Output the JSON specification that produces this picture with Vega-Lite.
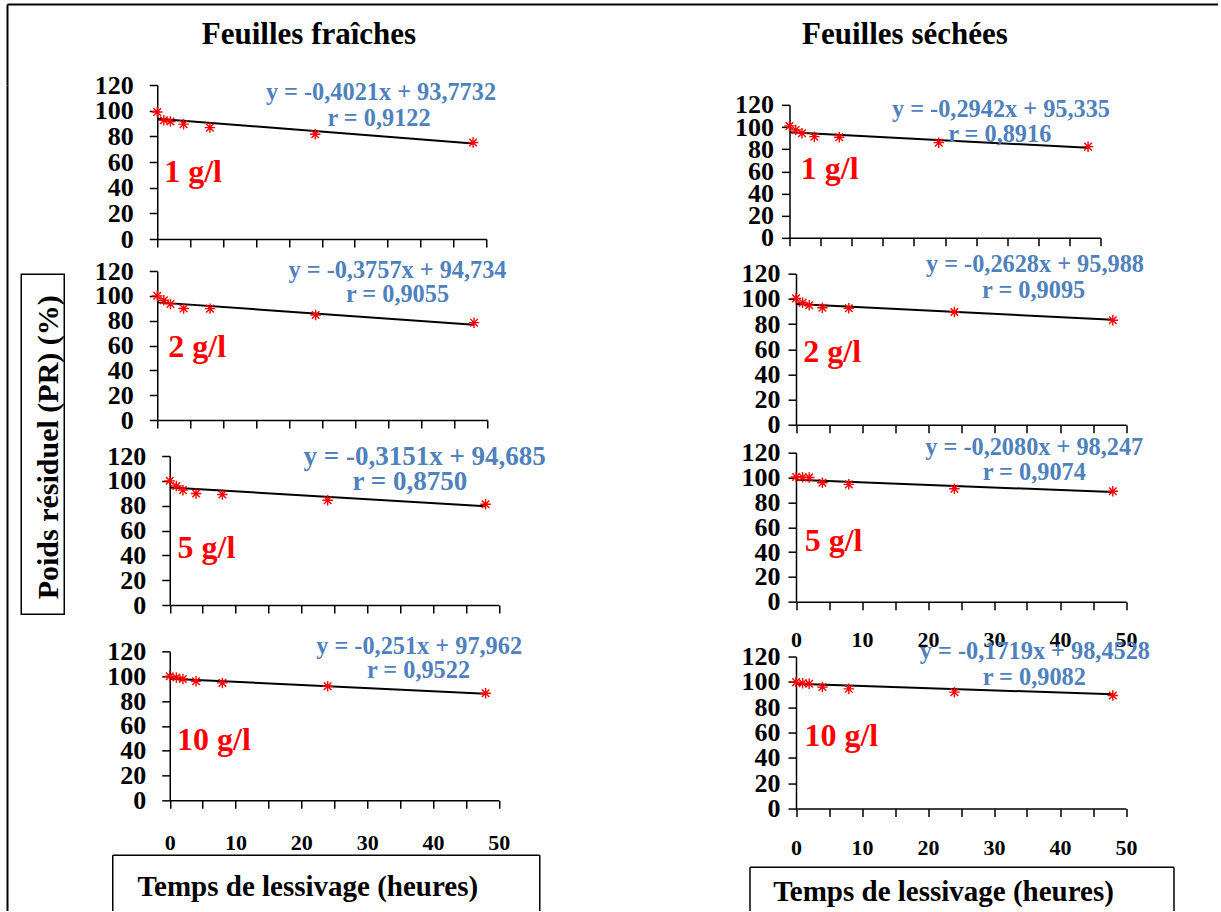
{
"$schema": "https://vega.github.io/schema/vega-lite/v6.json",
"background": "white",
"padding": {"left": 7, "top": 4, "right": 0, "bottom": 0},
"config": {"view": {"stroke": null}, "font": "Liberation Serif",
  "axis": {"grid": false, "domainColor": "black", "tickColor": "black", "labelColor": "black", "labelFont": "Liberation Serif", "labelFontWeight": "bold", "domainWidth": 1.5, "tickWidth": 1.5, "tickSize": 8, "labelOverlap": false, "labelBound": false, "labelFlush": false}},
"datasets": {
"pts": [
{"k":"fr1","t":0,"pr":99},{"k":"fr1","t":1,"pr":92.5},{"k":"fr1","t":2,"pr":91.5},{"k":"fr1","t":4,"pr":89.5},{"k":"fr1","t":8,"pr":86.8},{"k":"fr1","t":24,"pr":81.6},{"k":"fr1","t":48,"pr":75.2},
{"k":"fr2","t":0,"pr":100},{"k":"fr2","t":1,"pr":96.5},{"k":"fr2","t":2,"pr":93.5},{"k":"fr2","t":4,"pr":89.8},{"k":"fr2","t":8,"pr":89.7},{"k":"fr2","t":24,"pr":84.6},{"k":"fr2","t":48,"pr":78.4},
{"k":"fr5","t":0,"pr":100},{"k":"fr5","t":1,"pr":95.8},{"k":"fr5","t":2,"pr":92.5},{"k":"fr5","t":4,"pr":89.8},{"k":"fr5","t":8,"pr":89},{"k":"fr5","t":24,"pr":84.4},{"k":"fr5","t":48,"pr":81.2},
{"k":"fr10","t":0,"pr":100},{"k":"fr10","t":1,"pr":99},{"k":"fr10","t":2,"pr":97.8},{"k":"fr10","t":4,"pr":95.9},{"k":"fr10","t":8,"pr":94.6},{"k":"fr10","t":24,"pr":91.9},{"k":"fr10","t":48,"pr":86.3},
{"k":"se1","t":0,"pr":101},{"k":"se1","t":1,"pr":97.4},{"k":"se1","t":2,"pr":94.4},{"k":"se1","t":4,"pr":91.3},{"k":"se1","t":8,"pr":90.7},{"k":"se1","t":24,"pr":85.9},{"k":"se1","t":48,"pr":82.3},
{"k":"se2","t":0,"pr":100.4},{"k":"se2","t":1,"pr":97},{"k":"se2","t":2,"pr":94.9},{"k":"se2","t":4,"pr":93},{"k":"se2","t":8,"pr":92.5},{"k":"se2","t":24,"pr":89.6},{"k":"se2","t":48,"pr":83},
{"k":"se5","t":0,"pr":100.4},{"k":"se5","t":1,"pr":100.2},{"k":"se5","t":2,"pr":100},{"k":"se5","t":4,"pr":95.8},{"k":"se5","t":8,"pr":94.5},{"k":"se5","t":24,"pr":91},{"k":"se5","t":48,"pr":89},
{"k":"se10","t":0,"pr":99.8},{"k":"se10","t":1,"pr":99},{"k":"se10","t":2,"pr":98.5},{"k":"se10","t":4,"pr":95.9},{"k":"se10","t":8,"pr":94.5},{"k":"se10","t":24,"pr":91.9},{"k":"se10","t":48,"pr":89.3}
],
"fit": [
{"k":"fr1","t":0,"pr":93.77},{"k":"fr1","t":48,"pr":74.47},
{"k":"fr2","t":0,"pr":94.73},{"k":"fr2","t":48,"pr":76.70},
{"k":"fr5","t":0,"pr":94.69},{"k":"fr5","t":48,"pr":79.56},
{"k":"fr10","t":0,"pr":97.96},{"k":"fr10","t":48,"pr":85.91},
{"k":"se1","t":0,"pr":95.34},{"k":"se1","t":48,"pr":81.21},
{"k":"se2","t":0,"pr":95.99},{"k":"se2","t":48,"pr":83.37},
{"k":"se5","t":0,"pr":98.25},{"k":"se5","t":48,"pr":88.26},
{"k":"se10","t":0,"pr":98.45},{"k":"se10","t":48,"pr":90.20}
],
"ann": [
{"k":"fr1","eq":"y = -0,4021x + 93,7732","r":"r = 0,9122","conc":"1 g/l"},
{"k":"fr2","eq":"y = -0,3757x + 94,734","r":"r = 0,9055","conc":"2 g/l"},
{"k":"fr5","eq":"y = -0,3151x + 94,685","r":"r = 0,8750","conc":"5 g/l"},
{"k":"fr10","eq":"y = -0,251x + 97,962","r":"r = 0,9522","conc":"10 g/l"},
{"k":"se1","eq":"y = -0,2942x + 95,335","r":"r = 0,8916","conc":"1 g/l"},
{"k":"se2","eq":"y = -0,2628x + 95,988","r":"r = 0,9095","conc":"2 g/l"},
{"k":"se5","eq":"y = -0,2080x + 98,247","r":"r = 0,9074","conc":"5 g/l"},
{"k":"se10","eq":"y = -0,1719x + 98,4528","r":"r = 0,9082","conc":"10 g/l"}
],
"cols": [{"col": "Feuilles fraîches"}, {"col": "Feuilles séchées"}]
},
"spacing": -13,
"vconcat": [
{"width": 1211, "height": 81, "data": {"name": "cols"},
 "mark": {"type": "text", "fontSize": 31, "fontWeight": "bold", "font": "Liberation Serif", "color": "black", "dy": -10},
 "encoding": {
  "text": {"field": "col"},
  "x": {"field": "col", "type": "nominal", "sort": null, "scale": {"type": "point", "padding": 0.516, "align": 0.491}, "axis": {"orient": "top", "domain": true, "domainWidth": 2, "ticks": false, "labels": false, "title": null}},
  "y": {"datum": 0.5, "type": "quantitative", "scale": {"domain": [0, 1]}, "axis": {"orient": "left", "domain": true, "domainWidth": 2, "ticks": false, "labels": false, "title": null}}}},
{"spacing": 149.5, "hconcat": [
 {"spacing": 29.25, "hconcat": [
  {"spacing": 12.25, "hconcat": [
   {"width": 1, "height": 826, "data": {"values": [{"v": 0}]}, "mark": {"type": "text", "text": "", "fontSize": 0},
    "encoding": {"y": {"field": "v", "type": "quantitative", "scale": {"domain": [0, 1]}, "axis": {"orient": "left", "domain": true, "domainWidth": 2, "ticks": false, "labels": false, "title": null}}}},
   {"spacing": 0.25, "vconcat": [
    {"width": 1, "height": 188, "data": {"values": [{}]}, "mark": {"type": "text", "text": "", "fontSize": 0}},
    {"width": 43, "height": 340, "view": {"stroke": "black", "strokeWidth": 1.5}, "data": {"values": [{"t": "Poids résiduel (PR) (%)"}]},
     "mark": {"type": "text", "angle": 270, "fontSize": 30, "fontWeight": "bold", "font": "Liberation Serif", "color": "black", "dx": -3, "dy": 6},
     "encoding": {"text": {"field": "t"}}}
   ]}
  ]},
  {"spacing": 16.35, "vconcat": [
   {"spacing": 9, "vconcat": [
    {"spacing": 6, "vconcat": [
     {"width": 329, "height": 154, "layer": [
      {"data": {"name": "fit"}, "transform": [{"filter": "datum.k === 'fr1'"}], "mark": {"type": "line", "color": "black", "strokeWidth": 2},
       "encoding": {"x": {"field": "t", "type": "quantitative", "scale": {"domain": [0, 50], "nice": false}, "axis": {"values": [0,5,10,15,20,25,30,35,40,45,50], "labels": false, "title": null}},
                    "y": {"field": "pr", "type": "quantitative", "scale": {"domain": [0, 120], "nice": false}, "axis": {"values": [0,20,40,60,80,100,120], "labelPadding": 16, "labelFontSize": 26, "title": null}}}},
      {"data": {"name": "pts"}, "transform": [{"filter": "datum.k === 'fr1'"}], "mark": {"type": "point", "shape": "M-1,0L1,0M0,-1L0,1M-0.72,-0.72L0.72,0.72M-0.72,0.72L0.72,-0.72", "size": 110, "filled": false, "color": "#ff0000", "strokeWidth": 1.4, "opacity": 1},
       "encoding": {"x": {"field": "t", "type": "quantitative", "axis": {"values": [0,5,10,15,20,25,30,35,40,45,50], "labels": false, "title": null}}, "y": {"field": "pr", "type": "quantitative", "axis": {"values": [0,20,40,60,80,100,120], "labelPadding": 16, "labelFontSize": 26, "title": null}}}},
      {"data": {"name": "ann"}, "transform": [{"filter": "datum.k === 'fr1'"}], "mark": {"type": "text", "font": "Liberation Serif", "fontWeight": "bold", "fontSize": 24.3, "color": "#4f81bd"},
       "encoding": {"x": {"datum": 34.0, "axis": {"values": [0,5,10,15,20,25,30,35,40,45,50], "labels": false, "title": null}}, "y": {"datum": 113.8, "axis": {"values": [0,20,40,60,80,100,120], "labelPadding": 16, "labelFontSize": 26, "title": null}}, "text": {"field": "eq"}}},
      {"data": {"name": "ann"}, "transform": [{"filter": "datum.k === 'fr1'"}], "mark": {"type": "text", "font": "Liberation Serif", "fontWeight": "bold", "fontSize": 24.3, "color": "#4f81bd"},
       "encoding": {"x": {"datum": 33.7, "axis": {"values": [0,5,10,15,20,25,30,35,40,45,50], "labels": false, "title": null}}, "y": {"datum": 93.5, "axis": {"values": [0,20,40,60,80,100,120], "labelPadding": 16, "labelFontSize": 26, "title": null}}, "text": {"field": "r"}}},
      {"data": {"name": "ann"}, "transform": [{"filter": "datum.k === 'fr1'"}], "mark": {"type": "text", "font": "Liberation Serif", "fontWeight": "bold", "fontSize": 32, "color": "#ff0000", "align": "left", "baseline": "alphabetic"},
       "encoding": {"x": {"datum": 1.06, "axis": {"values": [0,5,10,15,20,25,30,35,40,45,50], "labels": false, "title": null}}, "y": {"datum": 44.6, "axis": {"values": [0,20,40,60,80,100,120], "labelPadding": 16, "labelFontSize": 26, "title": null}}, "text": {"field": "conc"}}}
     ]},
     {"width": 330, "height": 149, "layer": [
      {"data": {"name": "fit"}, "transform": [{"filter": "datum.k === 'fr2'"}], "mark": {"type": "line", "color": "black", "strokeWidth": 2},
       "encoding": {"x": {"field": "t", "type": "quantitative", "scale": {"domain": [0, 50], "nice": false}, "axis": {"values": [0,5,10,15,20,25,30,35,40,45,50], "labels": false, "title": null}},
                    "y": {"field": "pr", "type": "quantitative", "scale": {"domain": [0, 120], "nice": false}, "axis": {"values": [0,20,40,60,80,100,120], "labelPadding": 16, "labelFontSize": 26, "title": null}}}},
      {"data": {"name": "pts"}, "transform": [{"filter": "datum.k === 'fr2'"}], "mark": {"type": "point", "shape": "M-1,0L1,0M0,-1L0,1M-0.72,-0.72L0.72,0.72M-0.72,0.72L0.72,-0.72", "size": 110, "filled": false, "color": "#ff0000", "strokeWidth": 1.4, "opacity": 1},
       "encoding": {"x": {"field": "t", "type": "quantitative", "axis": {"values": [0,5,10,15,20,25,30,35,40,45,50], "labels": false, "title": null}}, "y": {"field": "pr", "type": "quantitative", "axis": {"values": [0,20,40,60,80,100,120], "labelPadding": 16, "labelFontSize": 26, "title": null}}}},
      {"data": {"name": "ann"}, "transform": [{"filter": "datum.k === 'fr2'"}], "mark": {"type": "text", "font": "Liberation Serif", "fontWeight": "bold", "fontSize": 24.3, "color": "#4f81bd"},
       "encoding": {"x": {"datum": 36.4, "axis": {"values": [0,5,10,15,20,25,30,35,40,45,50], "labels": false, "title": null}}, "y": {"datum": 120, "axis": {"values": [0,20,40,60,80,100,120], "labelPadding": 16, "labelFontSize": 26, "title": null}}, "text": {"field": "eq"}}},
      {"data": {"name": "ann"}, "transform": [{"filter": "datum.k === 'fr2'"}], "mark": {"type": "text", "font": "Liberation Serif", "fontWeight": "bold", "fontSize": 24.3, "color": "#4f81bd"},
       "encoding": {"x": {"datum": 36.4, "axis": {"values": [0,5,10,15,20,25,30,35,40,45,50], "labels": false, "title": null}}, "y": {"datum": 100.3, "axis": {"values": [0,20,40,60,80,100,120], "labelPadding": 16, "labelFontSize": 26, "title": null}}, "text": {"field": "r"}}},
      {"data": {"name": "ann"}, "transform": [{"filter": "datum.k === 'fr2'"}], "mark": {"type": "text", "font": "Liberation Serif", "fontWeight": "bold", "fontSize": 32, "color": "#ff0000", "align": "left", "baseline": "alphabetic"},
       "encoding": {"x": {"datum": 1.67, "axis": {"values": [0,5,10,15,20,25,30,35,40,45,50], "labels": false, "title": null}}, "y": {"datum": 50.5, "axis": {"values": [0,20,40,60,80,100,120], "labelPadding": 16, "labelFontSize": 26, "title": null}}, "text": {"field": "conc"}}}
     ]}
    ]},
    {"width": 341.5, "height": 149, "layer": [
     {"data": {"name": "fit"}, "transform": [{"filter": "datum.k === 'fr5'"}], "mark": {"type": "line", "color": "black", "strokeWidth": 2},
      "encoding": {"x": {"field": "t", "type": "quantitative", "scale": {"domain": [0, 50], "nice": false, "range": [12.5, 341.5]}, "axis": {"values": [0,5,10,15,20,25,30,35,40,45,50], "labels": false, "title": null}},
                   "y": {"field": "pr", "type": "quantitative", "scale": {"domain": [0, 120], "nice": false}, "axis": {"values": [0,20,40,60,80,100,120], "labelPadding": 16, "labelFontSize": 26, "offset": -12.5, "title": null}}}},
     {"data": {"name": "pts"}, "transform": [{"filter": "datum.k === 'fr5'"}], "mark": {"type": "point", "shape": "M-1,0L1,0M0,-1L0,1M-0.72,-0.72L0.72,0.72M-0.72,0.72L0.72,-0.72", "size": 110, "filled": false, "color": "#ff0000", "strokeWidth": 1.4, "opacity": 1},
      "encoding": {"x": {"field": "t", "type": "quantitative", "axis": {"values": [0,5,10,15,20,25,30,35,40,45,50], "labels": false, "title": null}}, "y": {"field": "pr", "type": "quantitative", "axis": {"values": [0,20,40,60,80,100,120], "labelPadding": 16, "labelFontSize": 26, "offset": -12.5, "title": null}}}},
     {"data": {"name": "ann"}, "transform": [{"filter": "datum.k === 'fr5'"}], "mark": {"type": "text", "font": "Liberation Serif", "fontWeight": "bold", "fontSize": 27, "color": "#4f81bd"},
      "encoding": {"x": {"datum": 38.75, "axis": {"values": [0,5,10,15,20,25,30,35,40,45,50], "labels": false, "title": null}}, "y": {"datum": 119.2, "axis": {"values": [0,20,40,60,80,100,120], "labelPadding": 16, "labelFontSize": 26, "offset": -12.5, "title": null}}, "text": {"field": "eq"}}},
     {"data": {"name": "ann"}, "transform": [{"filter": "datum.k === 'fr5'"}], "mark": {"type": "text", "font": "Liberation Serif", "fontWeight": "bold", "fontSize": 27, "color": "#4f81bd"},
      "encoding": {"x": {"datum": 36.5, "axis": {"values": [0,5,10,15,20,25,30,35,40,45,50], "labels": false, "title": null}}, "y": {"datum": 98.7, "axis": {"values": [0,20,40,60,80,100,120], "labelPadding": 16, "labelFontSize": 26, "offset": -12.5, "title": null}}, "text": {"field": "r"}}},
     {"data": {"name": "ann"}, "transform": [{"filter": "datum.k === 'fr5'"}], "mark": {"type": "text", "font": "Liberation Serif", "fontWeight": "bold", "fontSize": 32, "color": "#ff0000", "align": "left", "baseline": "alphabetic"},
      "encoding": {"x": {"datum": 1.19, "axis": {"values": [0,5,10,15,20,25,30,35,40,45,50], "labels": false, "title": null}}, "y": {"datum": 37.6, "axis": {"values": [0,20,40,60,80,100,120], "labelPadding": 16, "labelFontSize": 26, "offset": -12.5, "title": null}}, "text": {"field": "conc"}}}
    ]}
   ]},
   {"spacing": 1.5, "vconcat": [
    {"width": 341.5, "height": 149, "layer": [
     {"data": {"name": "fit"}, "transform": [{"filter": "datum.k === 'fr10'"}], "mark": {"type": "line", "color": "black", "strokeWidth": 2},
      "encoding": {"x": {"field": "t", "type": "quantitative", "scale": {"domain": [0, 50], "nice": false, "range": [12.5, 341.5]}, "axis": {"values": [0,5,10,15,20,25,30,35,40,45,50], "labelExpr": "datum.value % 10 === 0 ? datum.label : ''", "labelPadding": 24, "labelFontSize": 22, "title": null}},
                   "y": {"field": "pr", "type": "quantitative", "scale": {"domain": [0, 120], "nice": false}, "axis": {"values": [0,20,40,60,80,100,120], "labelPadding": 16, "labelFontSize": 26, "offset": -12.5, "title": null}}}},
     {"data": {"name": "pts"}, "transform": [{"filter": "datum.k === 'fr10'"}], "mark": {"type": "point", "shape": "M-1,0L1,0M0,-1L0,1M-0.72,-0.72L0.72,0.72M-0.72,0.72L0.72,-0.72", "size": 110, "filled": false, "color": "#ff0000", "strokeWidth": 1.4, "opacity": 1},
      "encoding": {"x": {"field": "t", "type": "quantitative", "axis": {"values": [0,5,10,15,20,25,30,35,40,45,50], "labelExpr": "datum.value % 10 === 0 ? datum.label : ''", "labelPadding": 24, "labelFontSize": 22, "title": null}}, "y": {"field": "pr", "type": "quantitative", "axis": {"values": [0,20,40,60,80,100,120], "labelPadding": 16, "labelFontSize": 26, "offset": -12.5, "title": null}}}},
     {"data": {"name": "ann"}, "transform": [{"filter": "datum.k === 'fr10'"}], "mark": {"type": "text", "font": "Liberation Serif", "fontWeight": "bold", "fontSize": 24.3, "color": "#4f81bd"},
      "encoding": {"x": {"datum": 37.9, "axis": {"values": [0,5,10,15,20,25,30,35,40,45,50], "labelExpr": "datum.value % 10 === 0 ? datum.label : ''", "labelPadding": 24, "labelFontSize": 22, "title": null}}, "y": {"datum": 123.6, "axis": {"values": [0,20,40,60,80,100,120], "labelPadding": 16, "labelFontSize": 26, "offset": -12.5, "title": null}}, "text": {"field": "eq"}}},
     {"data": {"name": "ann"}, "transform": [{"filter": "datum.k === 'fr10'"}], "mark": {"type": "text", "font": "Liberation Serif", "fontWeight": "bold", "fontSize": 24.3, "color": "#4f81bd"},
      "encoding": {"x": {"datum": 37.8, "axis": {"values": [0,5,10,15,20,25,30,35,40,45,50], "labelExpr": "datum.value % 10 === 0 ? datum.label : ''", "labelPadding": 24, "labelFontSize": 22, "title": null}}, "y": {"datum": 103.9, "axis": {"values": [0,20,40,60,80,100,120], "labelPadding": 16, "labelFontSize": 26, "offset": -12.5, "title": null}}, "text": {"field": "r"}}},
     {"data": {"name": "ann"}, "transform": [{"filter": "datum.k === 'fr10'"}], "mark": {"type": "text", "font": "Liberation Serif", "fontWeight": "bold", "fontSize": 32, "color": "#ff0000", "align": "left", "baseline": "alphabetic"},
      "encoding": {"x": {"datum": 1.1, "axis": {"values": [0,5,10,15,20,25,30,35,40,45,50], "labelExpr": "datum.value % 10 === 0 ? datum.label : ''", "labelPadding": 24, "labelFontSize": 22, "title": null}}, "y": {"datum": 40.8, "axis": {"values": [0,20,40,60,80,100,120], "labelPadding": 16, "labelFontSize": 26, "offset": -12.5, "title": null}}, "text": {"field": "conc"}}}
    ]},
    {"width": 382, "height": 56, "data": {"values": [{"v": 0, "t": "Temps de lessivage (heures)"}]},
     "layer": [
      {"mark": {"type": "text", "fontSize": 29, "fontWeight": "bold", "font": "Liberation Serif", "color": "black", "dx": -18, "dy": 4},
       "encoding": {"text": {"field": "t"},
        "x": {"field": "v", "type": "quantitative", "scale": {"domain": [-1, 1], "range": [-45, 382]}, "axis": {"orient": "top", "domain": true, "ticks": false, "labels": false, "title": null}},
        "y": {"field": "v", "type": "quantitative", "scale": {"domain": [-1, 1]}, "axis": {"orient": "left", "offset": 45, "domain": true, "ticks": false, "labels": false, "title": null}}}},
      {"mark": {"type": "text", "text": "", "fontSize": 0},
       "encoding": {"y": {"field": "v", "type": "quantitative", "scale": {"domain": [-1, 1]}, "axis": {"orient": "right", "domain": true, "ticks": false, "labels": false, "title": null}}}}
     ],
     "resolve": {"scale": {"y": "independent"}, "axis": {"y": "independent"}}}
   ]}
  ]}
 ]},
 {"spacing": 5.85, "vconcat": [
  {"width": 1, "height": 1, "data": {"values": [{}]}, "mark": {"type": "text", "text": "", "fontSize": 0}},
  {"spacing": -2.15, "vconcat": [
   {"spacing": 0.85, "vconcat": [
    {"width": 311, "height": 133, "layer": [
     {"data": {"name": "fit"}, "transform": [{"filter": "datum.k === 'se1'"}], "mark": {"type": "line", "color": "black", "strokeWidth": 2},
      "encoding": {"x": {"field": "t", "type": "quantitative", "scale": {"domain": [0, 50], "nice": false}, "axis": {"values": [0,5,10,15,20,25,30,35,40,45,50], "labels": false, "title": null}},
                   "y": {"field": "pr", "type": "quantitative", "scale": {"domain": [0, 120], "nice": false}, "axis": {"values": [0,20,40,60,80,100,120], "labelPadding": 8, "labelFontSize": 26, "title": null}}}},
     {"data": {"name": "pts"}, "transform": [{"filter": "datum.k === 'se1'"}], "mark": {"type": "point", "shape": "M-1,0L1,0M0,-1L0,1M-0.72,-0.72L0.72,0.72M-0.72,0.72L0.72,-0.72", "size": 110, "filled": false, "color": "#ff0000", "strokeWidth": 1.4, "opacity": 1},
      "encoding": {"x": {"field": "t", "type": "quantitative", "axis": {"values": [0,5,10,15,20,25,30,35,40,45,50], "labels": false, "title": null}}, "y": {"field": "pr", "type": "quantitative", "axis": {"values": [0,20,40,60,80,100,120], "labelPadding": 8, "labelFontSize": 26, "title": null}}}},
     {"data": {"name": "ann"}, "transform": [{"filter": "datum.k === 'se1'"}], "mark": {"type": "text", "font": "Liberation Serif", "fontWeight": "bold", "fontSize": 24.3, "color": "#4f81bd"},
      "encoding": {"x": {"datum": 34.0, "axis": {"values": [0,5,10,15,20,25,30,35,40,45,50], "labels": false, "title": null}}, "y": {"datum": 115.5, "axis": {"values": [0,20,40,60,80,100,120], "labelPadding": 8, "labelFontSize": 26, "title": null}}, "text": {"field": "eq"}}},
     {"data": {"name": "ann"}, "transform": [{"filter": "datum.k === 'se1'"}], "mark": {"type": "text", "font": "Liberation Serif", "fontWeight": "bold", "fontSize": 24.3, "color": "#4f81bd"},
      "encoding": {"x": {"datum": 33.8, "axis": {"values": [0,5,10,15,20,25,30,35,40,45,50], "labels": false, "title": null}}, "y": {"datum": 92.9, "axis": {"values": [0,20,40,60,80,100,120], "labelPadding": 8, "labelFontSize": 26, "title": null}}, "text": {"field": "r"}}},
     {"data": {"name": "ann"}, "transform": [{"filter": "datum.k === 'se1'"}], "mark": {"type": "text", "font": "Liberation Serif", "fontWeight": "bold", "fontSize": 32, "color": "#ff0000", "align": "left", "baseline": "alphabetic"},
      "encoding": {"x": {"datum": 1.82, "axis": {"values": [0,5,10,15,20,25,30,35,40,45,50], "labels": false, "title": null}}, "y": {"datum": 53.0, "axis": {"values": [0,20,40,60,80,100,120], "labelPadding": 8, "labelFontSize": 26, "title": null}}, "text": {"field": "conc"}}}
    ]},
    {"width": 336.5, "height": 151, "layer": [
     {"data": {"name": "fit"}, "transform": [{"filter": "datum.k === 'se2'"}], "mark": {"type": "line", "color": "black", "strokeWidth": 2},
      "encoding": {"x": {"field": "t", "type": "quantitative", "scale": {"domain": [0, 50], "nice": false, "range": [6.5, 336.5]}, "axis": {"values": [0,5,10,15,20,25,30,35,40,45,50], "labels": false, "title": null}},
                   "y": {"field": "pr", "type": "quantitative", "scale": {"domain": [0, 120], "nice": false}, "axis": {"values": [0,20,40,60,80,100,120], "labelPadding": 8, "labelFontSize": 26, "offset": -6.5, "title": null}}}},
     {"data": {"name": "pts"}, "transform": [{"filter": "datum.k === 'se2'"}], "mark": {"type": "point", "shape": "M-1,0L1,0M0,-1L0,1M-0.72,-0.72L0.72,0.72M-0.72,0.72L0.72,-0.72", "size": 110, "filled": false, "color": "#ff0000", "strokeWidth": 1.4, "opacity": 1},
      "encoding": {"x": {"field": "t", "type": "quantitative", "axis": {"values": [0,5,10,15,20,25,30,35,40,45,50], "labels": false, "title": null}}, "y": {"field": "pr", "type": "quantitative", "axis": {"values": [0,20,40,60,80,100,120], "labelPadding": 8, "labelFontSize": 26, "offset": -6.5, "title": null}}}},
     {"data": {"name": "ann"}, "transform": [{"filter": "datum.k === 'se2'"}], "mark": {"type": "text", "font": "Liberation Serif", "fontWeight": "bold", "fontSize": 24.3, "color": "#4f81bd"},
      "encoding": {"x": {"datum": 36.2, "axis": {"values": [0,5,10,15,20,25,30,35,40,45,50], "labels": false, "title": null}}, "y": {"datum": 127.2, "axis": {"values": [0,20,40,60,80,100,120], "labelPadding": 8, "labelFontSize": 26, "offset": -6.5, "title": null}}, "text": {"field": "eq"}}},
     {"data": {"name": "ann"}, "transform": [{"filter": "datum.k === 'se2'"}], "mark": {"type": "text", "font": "Liberation Serif", "fontWeight": "bold", "fontSize": 24.3, "color": "#4f81bd"},
      "encoding": {"x": {"datum": 36.0, "axis": {"values": [0,5,10,15,20,25,30,35,40,45,50], "labels": false, "title": null}}, "y": {"datum": 106.5, "axis": {"values": [0,20,40,60,80,100,120], "labelPadding": 8, "labelFontSize": 26, "offset": -6.5, "title": null}}, "text": {"field": "r"}}},
     {"data": {"name": "ann"}, "transform": [{"filter": "datum.k === 'se2'"}], "mark": {"type": "text", "font": "Liberation Serif", "fontWeight": "bold", "fontSize": 32, "color": "#ff0000", "align": "left", "baseline": "alphabetic"},
      "encoding": {"x": {"datum": 1.1, "axis": {"values": [0,5,10,15,20,25,30,35,40,45,50], "labels": false, "title": null}}, "y": {"datum": 49.5, "axis": {"values": [0,20,40,60,80,100,120], "labelPadding": 8, "labelFontSize": 26, "offset": -6.5, "title": null}}, "text": {"field": "conc"}}}
    ]}
   ]},
   {"spacing": -11.15, "vconcat": [
    {"width": 336.5, "height": 149, "layer": [
     {"data": {"name": "fit"}, "transform": [{"filter": "datum.k === 'se5'"}], "mark": {"type": "line", "color": "black", "strokeWidth": 2},
      "encoding": {"x": {"field": "t", "type": "quantitative", "scale": {"domain": [0, 50], "nice": false, "range": [6.5, 336.5]}, "axis": {"values": [0,5,10,15,20,25,30,35,40,45,50], "labelExpr": "datum.value % 10 === 0 ? datum.label : ''", "labelPadding": 20, "labelFontSize": 22, "title": null}},
                   "y": {"field": "pr", "type": "quantitative", "scale": {"domain": [0, 120], "nice": false}, "axis": {"values": [0,20,40,60,80,100,120], "labelPadding": 8, "labelFontSize": 26, "offset": -6.5, "title": null}}}},
     {"data": {"name": "pts"}, "transform": [{"filter": "datum.k === 'se5'"}], "mark": {"type": "point", "shape": "M-1,0L1,0M0,-1L0,1M-0.72,-0.72L0.72,0.72M-0.72,0.72L0.72,-0.72", "size": 110, "filled": false, "color": "#ff0000", "strokeWidth": 1.4, "opacity": 1},
      "encoding": {"x": {"field": "t", "type": "quantitative", "axis": {"values": [0,5,10,15,20,25,30,35,40,45,50], "labelExpr": "datum.value % 10 === 0 ? datum.label : ''", "labelPadding": 20, "labelFontSize": 22, "title": null}}, "y": {"field": "pr", "type": "quantitative", "axis": {"values": [0,20,40,60,80,100,120], "labelPadding": 8, "labelFontSize": 26, "offset": -6.5, "title": null}}}},
     {"data": {"name": "ann"}, "transform": [{"filter": "datum.k === 'se5'"}], "mark": {"type": "text", "font": "Liberation Serif", "fontWeight": "bold", "fontSize": 24.3, "color": "#4f81bd"},
      "encoding": {"x": {"datum": 36.1, "axis": {"values": [0,5,10,15,20,25,30,35,40,45,50], "labelExpr": "datum.value % 10 === 0 ? datum.label : ''", "labelPadding": 20, "labelFontSize": 22, "title": null}}, "y": {"datum": 124, "axis": {"values": [0,20,40,60,80,100,120], "labelPadding": 8, "labelFontSize": 26, "offset": -6.5, "title": null}}, "text": {"field": "eq"}}},
     {"data": {"name": "ann"}, "transform": [{"filter": "datum.k === 'se5'"}], "mark": {"type": "text", "font": "Liberation Serif", "fontWeight": "bold", "fontSize": 24.3, "color": "#4f81bd"},
      "encoding": {"x": {"datum": 36.1, "axis": {"values": [0,5,10,15,20,25,30,35,40,45,50], "labelExpr": "datum.value % 10 === 0 ? datum.label : ''", "labelPadding": 20, "labelFontSize": 22, "title": null}}, "y": {"datum": 103.5, "axis": {"values": [0,20,40,60,80,100,120], "labelPadding": 8, "labelFontSize": 26, "offset": -6.5, "title": null}}, "text": {"field": "r"}}},
     {"data": {"name": "ann"}, "transform": [{"filter": "datum.k === 'se5'"}], "mark": {"type": "text", "font": "Liberation Serif", "fontWeight": "bold", "fontSize": 32, "color": "#ff0000", "align": "left", "baseline": "alphabetic"},
      "encoding": {"x": {"datum": 1.32, "axis": {"values": [0,5,10,15,20,25,30,35,40,45,50], "labelExpr": "datum.value % 10 === 0 ? datum.label : ''", "labelPadding": 20, "labelFontSize": 22, "title": null}}, "y": {"datum": 41.1, "axis": {"values": [0,20,40,60,80,100,120], "labelPadding": 8, "labelFontSize": 26, "offset": -6.5, "title": null}}, "text": {"field": "conc"}}}
    ]},
    {"spacing": 8.25, "vconcat": [
     {"width": 336.5, "height": 152, "layer": [
      {"data": {"name": "fit"}, "transform": [{"filter": "datum.k === 'se10'"}], "mark": {"type": "line", "color": "black", "strokeWidth": 2},
       "encoding": {"x": {"field": "t", "type": "quantitative", "scale": {"domain": [0, 50], "nice": false, "range": [6.5, 336.5]}, "axis": {"values": [0,5,10,15,20,25,30,35,40,45,50], "labelExpr": "datum.value % 10 === 0 ? datum.label : ''", "labelPadding": 21, "labelFontSize": 22, "title": null}},
                    "y": {"field": "pr", "type": "quantitative", "scale": {"domain": [0, 120], "nice": false}, "axis": {"values": [0,20,40,60,80,100,120], "labelPadding": 8, "labelFontSize": 26, "offset": -6.5, "title": null}}}},
      {"data": {"name": "pts"}, "transform": [{"filter": "datum.k === 'se10'"}], "mark": {"type": "point", "shape": "M-1,0L1,0M0,-1L0,1M-0.72,-0.72L0.72,0.72M-0.72,0.72L0.72,-0.72", "size": 110, "filled": false, "color": "#ff0000", "strokeWidth": 1.4, "opacity": 1},
       "encoding": {"x": {"field": "t", "type": "quantitative", "axis": {"values": [0,5,10,15,20,25,30,35,40,45,50], "labelExpr": "datum.value % 10 === 0 ? datum.label : ''", "labelPadding": 21, "labelFontSize": 22, "title": null}}, "y": {"field": "pr", "type": "quantitative", "axis": {"values": [0,20,40,60,80,100,120], "labelPadding": 8, "labelFontSize": 26, "offset": -6.5, "title": null}}}},
      {"data": {"name": "ann"}, "transform": [{"filter": "datum.k === 'se10'"}], "mark": {"type": "text", "font": "Liberation Serif", "fontWeight": "bold", "fontSize": 24.3, "color": "#4f81bd"},
       "encoding": {"x": {"datum": 36.2, "axis": {"values": [0,5,10,15,20,25,30,35,40,45,50], "labelExpr": "datum.value % 10 === 0 ? datum.label : ''", "labelPadding": 21, "labelFontSize": 22, "title": null}}, "y": {"datum": 123.2, "axis": {"values": [0,20,40,60,80,100,120], "labelPadding": 8, "labelFontSize": 26, "offset": -6.5, "title": null}}, "text": {"field": "eq"}}},
      {"data": {"name": "ann"}, "transform": [{"filter": "datum.k === 'se10'"}], "mark": {"type": "text", "font": "Liberation Serif", "fontWeight": "bold", "fontSize": 24.3, "color": "#4f81bd"},
       "encoding": {"x": {"datum": 36.1, "axis": {"values": [0,5,10,15,20,25,30,35,40,45,50], "labelExpr": "datum.value % 10 === 0 ? datum.label : ''", "labelPadding": 21, "labelFontSize": 22, "title": null}}, "y": {"datum": 103, "axis": {"values": [0,20,40,60,80,100,120], "labelPadding": 8, "labelFontSize": 26, "offset": -6.5, "title": null}}, "text": {"field": "r"}}},
      {"data": {"name": "ann"}, "transform": [{"filter": "datum.k === 'se10'"}], "mark": {"type": "text", "font": "Liberation Serif", "fontWeight": "bold", "fontSize": 32, "color": "#ff0000", "align": "left", "baseline": "alphabetic"},
       "encoding": {"x": {"datum": 1.27, "axis": {"values": [0,5,10,15,20,25,30,35,40,45,50], "labelExpr": "datum.value % 10 === 0 ? datum.label : ''", "labelPadding": 21, "labelFontSize": 22, "title": null}}, "y": {"datum": 49.7, "axis": {"values": [0,20,40,60,80,100,120], "labelPadding": 8, "labelFontSize": 26, "offset": -6.5, "title": null}}, "text": {"field": "conc"}}}
     ]},
     {"width": 384, "height": 44, "data": {"values": [{"v": 0, "t": "Temps de lessivage (heures)"}]},
      "layer": [
       {"mark": {"type": "text", "fontSize": 29, "fontWeight": "bold", "font": "Liberation Serif", "color": "black", "dx": -18, "dy": 3},
        "encoding": {"text": {"field": "t"},
         "x": {"field": "v", "type": "quantitative", "scale": {"domain": [-1, 1], "range": [-40, 384]}, "axis": {"orient": "top", "domain": true, "ticks": false, "labels": false, "title": null}},
         "y": {"field": "v", "type": "quantitative", "scale": {"domain": [-1, 1]}, "axis": {"orient": "left", "offset": 40, "domain": true, "ticks": false, "labels": false, "title": null}}}},
       {"mark": {"type": "text", "text": "", "fontSize": 0},
        "encoding": {"y": {"field": "v", "type": "quantitative", "scale": {"domain": [-1, 1]}, "axis": {"orient": "right", "domain": true, "ticks": false, "labels": false, "title": null}}}}
      ],
      "resolve": {"scale": {"y": "independent"}, "axis": {"y": "independent"}}}
    ]}
   ]}
  ]}
 ]}
]}
]
}
